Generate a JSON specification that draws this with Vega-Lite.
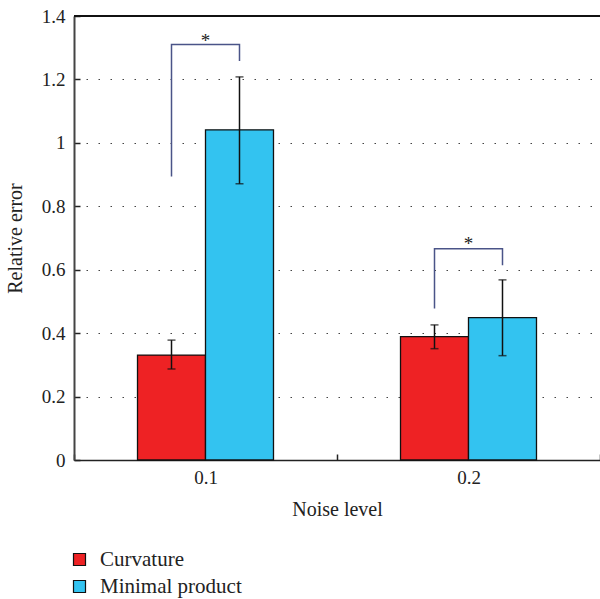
{
  "$schema": "https://vega.github.io/schema/vega-lite/v6.json",
  "autosize": {"type": "none"},
  "padding": {"left": 74, "top": 16, "right": 0, "bottom": 139},
  "width": 526,
  "height": 444,
  "config": {
    "view": {"stroke": null},
    "font": "Liberation Serif",
    "axis": {"labelFont": "Liberation Serif", "titleFont": "Liberation Serif", "labelColor": "#222", "titleColor": "#222", "titleFontWeight": "normal"},
    "legend": {"labelFont": "Liberation Serif"}
  },
  "datasets": {
    "bars": [
      {"noise": "0.1", "method": "Curvature", "value": 0.331, "lo": 0.287, "hi": 0.378},
      {"noise": "0.1", "method": "Minimal product", "value": 1.041, "lo": 0.871, "hi": 1.208},
      {"noise": "0.2", "method": "Curvature", "value": 0.389, "lo": 0.351, "hi": 0.426},
      {"noise": "0.2", "method": "Minimal product", "value": 0.449, "lo": 0.329, "hi": 0.568}
    ],
    "brackets": [
      {"noise": "0.1", "method": "Curvature", "y": 0.894, "order": 1},
      {"noise": "0.1", "method": "Curvature", "y": 1.31, "order": 2},
      {"noise": "0.1", "method": "Minimal product", "y": 1.31, "order": 3},
      {"noise": "0.1", "method": "Minimal product", "y": 1.258, "order": 4},
      {"noise": "0.2", "method": "Curvature", "y": 0.478, "order": 1},
      {"noise": "0.2", "method": "Curvature", "y": 0.666, "order": 2},
      {"noise": "0.2", "method": "Minimal product", "y": 0.666, "order": 3},
      {"noise": "0.2", "method": "Minimal product", "y": 0.614, "order": 4}
    ],
    "stars": [
      {"noise": "0.1", "y": 1.334, "label": "*"},
      {"noise": "0.2", "y": 0.694, "label": "*"}
    ]
  },
  "layer": [
    {
      "data": {"name": "bars"},
      "mark": {"type": "bar", "stroke": "#111", "strokeWidth": 1.3},
      "encoding": {
        "x": {
          "field": "noise", "type": "nominal",
          "scale": {"paddingInner": 0, "paddingOuter": 0},
          "axis": {
            "title": "Noise level", "labelAngle": 0, "labelFontSize": 19, "titleFontSize": 20,
            "tickBand": "extent", "tickSize": -6, "tickColor": "#222", "tickWidth": 1.5,
            "domainColor": "#222", "domainWidth": 1.5, "labelPadding": 14, "titlePadding": 12
          }
        },
        "xOffset": {"field": "method", "type": "nominal", "scale": {"paddingInner": 0, "paddingOuter": 0.934}},
        "y": {
          "field": "value", "type": "quantitative",
          "scale": {"domain": [0, 1.4], "nice": false},
          "axis": {
            "title": "Relative error", "values": [0, 0.2, 0.4, 0.6, 0.8, 1, 1.2, 1.4], "format": "~g",
            "labelFontSize": 19, "titleFontSize": 20, "tickSize": -6, "tickColor": "#222", "tickWidth": 1.5,
            "domainColor": "#444", "domainWidth": 2, "labelPadding": 15, "titlePadding": 16,
            "grid": true, "gridDash": [1.5, 10.5], "gridColor": "#444", "gridWidth": 1.2
          }
        },
        "color": {
          "field": "method", "type": "nominal",
          "scale": {"domain": ["Curvature", "Minimal product"], "range": ["#EE2224", "#33C3F0"]},
          "legend": {
            "title": null, "orient": "none", "legendX": -5, "legendY": 533,
            "symbolType": "square", "symbolSize": 144, "symbolStrokeColor": "#111", "symbolStrokeWidth": 1.2,
            "labelFontSize": 21, "labelColor": "#222", "labelOffset": 10, "rowPadding": 5, "padding": 0
          }
        }
      }
    },
    {
      "data": {"name": "bars"},
      "mark": {"type": "rule", "color": "#111", "strokeWidth": 1.5},
      "encoding": {
        "x": {"field": "noise", "type": "nominal"},
        "xOffset": {"field": "method", "type": "nominal"},
        "y": {"field": "lo", "type": "quantitative"},
        "y2": {"field": "hi"}
      }
    },
    {
      "data": {"name": "bars"},
      "mark": {"type": "tick", "color": "#111", "size": 8, "thickness": 1.5},
      "encoding": {
        "x": {"field": "noise", "type": "nominal"},
        "xOffset": {"field": "method", "type": "nominal"},
        "y": {"field": "lo", "type": "quantitative"}
      }
    },
    {
      "data": {"name": "bars"},
      "mark": {"type": "tick", "color": "#111", "size": 8, "thickness": 1.5},
      "encoding": {
        "x": {"field": "noise", "type": "nominal"},
        "xOffset": {"field": "method", "type": "nominal"},
        "y": {"field": "hi", "type": "quantitative"}
      }
    },
    {
      "data": {"name": "brackets"},
      "mark": {"type": "line", "color": "#4a5488", "strokeWidth": 1.5},
      "encoding": {
        "x": {"field": "noise", "type": "nominal"},
        "xOffset": {"field": "method", "type": "nominal"},
        "y": {"field": "y", "type": "quantitative"},
        "detail": {"field": "noise"},
        "order": {"field": "order"}
      }
    },
    {
      "data": {"name": "stars"},
      "mark": {"type": "text", "fontSize": 19, "color": "#222", "baseline": "middle", "dy": 4},
      "encoding": {
        "x": {"field": "noise", "type": "nominal"},
        "y": {"field": "y", "type": "quantitative"},
        "text": {"field": "label"}
      }
    },
    {
      "data": {"values": [{"top": 1.4}]},
      "mark": {"type": "rule", "color": "#111", "strokeWidth": 2},
      "encoding": {"y": {"field": "top", "type": "quantitative"}}
    }
  ]
}
